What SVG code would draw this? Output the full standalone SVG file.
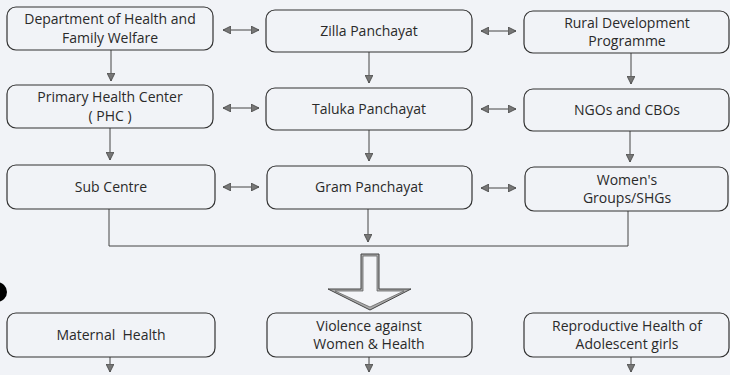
<svg xmlns="http://www.w3.org/2000/svg" width="730" height="375" viewBox="0 0 730 375">
<defs>
<style>
.box{fill:none;stroke:#333;stroke-width:1.2}
.ln{fill:none;stroke:#444;stroke-width:1}
.t{font-family:"Open Sans","Liberation Sans",sans-serif;font-size:14px;fill:#2a2a2a;text-anchor:middle}
</style>
<marker id="ah" viewBox="0 0 10 10" refX="10" refY="5" markerWidth="8" markerHeight="8" markerUnits="userSpaceOnUse" orient="auto-start-reverse">
<path d="M0,0 L10,5 L0,10 Z" fill="#777" stroke="#444" stroke-width="1"/>
</marker>
</defs>
<rect width="730" height="375" fill="#f1f3f7"/>
<circle cx="-3" cy="292" r="10" fill="#000"/>
<g id="connectors">
<line class="ln" x1="223" y1="30" x2="259" y2="30" marker-start="url(#ah)" marker-end="url(#ah)"/>
<line class="ln" x1="481" y1="31" x2="516" y2="31" marker-start="url(#ah)" marker-end="url(#ah)"/>
<line class="ln" x1="223" y1="108" x2="259" y2="108" marker-start="url(#ah)" marker-end="url(#ah)"/>
<line class="ln" x1="481" y1="109" x2="516" y2="109" marker-start="url(#ah)" marker-end="url(#ah)"/>
<line class="ln" x1="223" y1="187" x2="259" y2="187" marker-start="url(#ah)" marker-end="url(#ah)"/>
<line class="ln" x1="481" y1="188" x2="516" y2="188" marker-start="url(#ah)" marker-end="url(#ah)"/>
<line class="ln" x1="111" y1="50" x2="111" y2="81" marker-end="url(#ah)"/>
<line class="ln" x1="369" y1="52" x2="369" y2="83" marker-end="url(#ah)"/>
<line class="ln" x1="631" y1="53" x2="631" y2="84" marker-end="url(#ah)"/>
<line class="ln" x1="110" y1="128" x2="110" y2="160" marker-end="url(#ah)"/>
<line class="ln" x1="369" y1="130" x2="369" y2="161" marker-end="url(#ah)"/>
<line class="ln" x1="630" y1="131" x2="630" y2="162" marker-end="url(#ah)"/>
<polyline class="ln" points="109,209 109,246 628,246 628,211"/>
<line class="ln" x1="368" y1="209" x2="368" y2="242" marker-end="url(#ah)"/>
<polygon points="361,254 379,254 379,289 411,289 370,310 328,289 361,289" fill="#aaa" stroke="#444" stroke-width="1"/>
<polygon points="363,256 377,256 377,291 404,291 370,307 335,291 363,291" fill="#f4f5f8" stroke="#666" stroke-width="0.8"/>
<line class="ln" x1="110" y1="357" x2="110" y2="372" marker-end="url(#ah)"/>
<line class="ln" x1="369" y1="357" x2="369" y2="372" marker-end="url(#ah)"/>
<line class="ln" x1="631" y1="357" x2="631" y2="372" marker-end="url(#ah)"/>
</g>
<g id="n-dhfw"><rect class="box" x="7" y="7" width="206" height="43" rx="9"/><text class="t" x="110" y="24.2">Department of Health and</text><text class="t" x="110" y="42.7">Family Welfare</text></g>
<g id="n-zilla"><rect class="box" x="266" y="10" width="206" height="42" rx="9"/><text class="t" x="369" y="36">Zilla Panchayat</text></g>
<g id="n-rdp"><rect class="box" x="524" y="11" width="205" height="42" rx="9"/><text class="t" x="627" y="27.7">Rural Development</text><text class="t" x="627" y="46.2">Programme</text></g>
<g id="n-phc"><rect class="box" x="7" y="85" width="206" height="43" rx="9"/><text class="t" x="110" y="102.2">Primary Health Center</text><text class="t" x="110" y="120.7">( PHC )</text></g>
<g id="n-taluka"><rect class="box" x="266" y="88" width="206" height="42" rx="9"/><text class="t" x="369" y="114">Taluka Panchayat</text></g>
<g id="n-ngo"><rect class="box" x="524" y="89" width="205" height="42" rx="9"/><text class="t" x="627" y="115">NGOs and CBOs</text></g>
<g id="n-sub"><rect class="box" x="7" y="165" width="208" height="44" rx="9"/><text class="t" x="111" y="192">Sub Centre</text></g>
<g id="n-gram"><rect class="box" x="267" y="166" width="205" height="43" rx="9"/><text class="t" x="369" y="192">Gram Panchayat</text></g>
<g id="n-women"><rect class="box" x="525" y="167" width="203" height="44" rx="9"/><text class="t" x="627" y="184.7">Women's</text><text class="t" x="627" y="203.2">Groups/SHGs</text></g>
<g id="n-maternal"><rect class="box" x="7" y="313" width="208" height="44" rx="9"/><text class="t" x="111" y="340" xml:space="preserve">Maternal  Health</text></g>
<g id="n-violence"><rect class="box" x="267" y="313" width="205" height="44" rx="9"/><text class="t" x="369" y="330.7">Violence against</text><text class="t" x="369" y="349.2">Women &amp; Health</text></g>
<g id="n-rh"><rect class="box" x="524" y="313" width="205" height="44" rx="9"/><text class="t" x="627" y="330.7">Reproductive Health of</text><text class="t" x="627" y="349.2">Adolescent girls</text></g>
</svg>
